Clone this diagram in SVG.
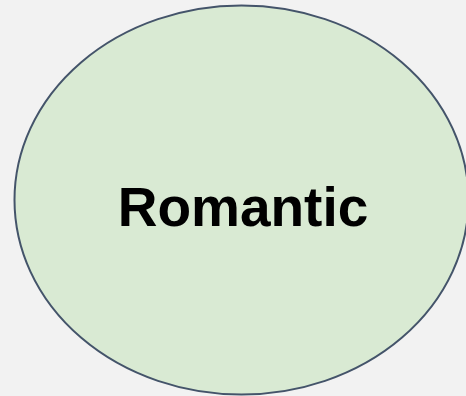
<svg xmlns="http://www.w3.org/2000/svg" width="466" height="396" viewBox="0 0 466 396">
<style>
.node-shape{fill:#d9ead3;stroke:#44546a;stroke-width:2}
.label{font-family:"Liberation Sans",Arial,sans-serif;font-weight:bold;font-size:55px;fill:#000;text-anchor:middle}
</style>
<rect width="466" height="396" fill="#f2f2f2"/>
<g id="connectors"/>
<g id="romantic">
<ellipse class="node-shape" cx="241.5" cy="200" rx="227" ry="194.5"/>
<text class="label" x="243" y="226">Romantic</text>
</g>
</svg>
